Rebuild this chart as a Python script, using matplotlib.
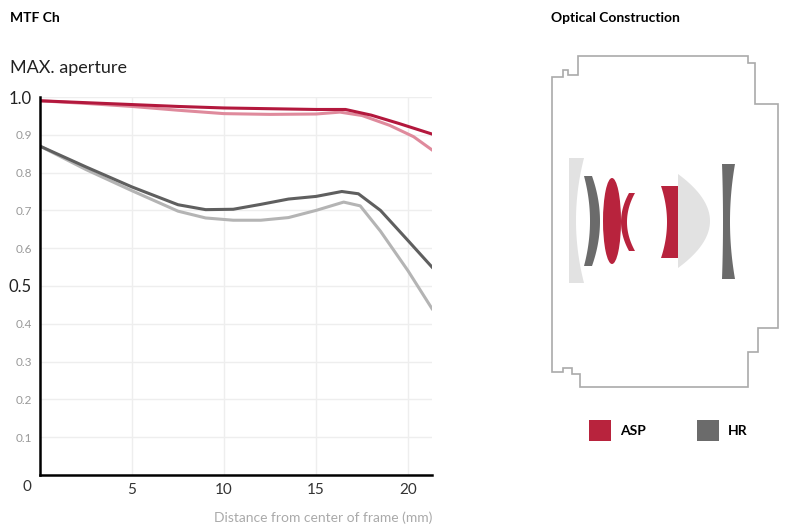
import numpy as np
import matplotlib
matplotlib.use("Agg")
import matplotlib.pyplot as plt
from matplotlib.patches import Polygon, Ellipse, Rectangle

plt.rcParams['font.family'] = ['Lato', 'DejaVu Sans']

# Data
sag_red_x = [0, 2.5, 5, 7.5, 10, 12.5, 15, 16.6, 18, 19.5, 21.3]
sag_red_y = [0.99, 0.985, 0.98, 0.975, 0.971, 0.969, 0.967, 0.967, 0.952, 0.93, 0.902]
mer_red_x = [0, 2.5, 5, 7.5, 10, 12.5, 15, 16.3, 17.5, 19, 20.3, 21.3]
mer_red_y = [0.99, 0.983, 0.975, 0.965, 0.956, 0.954, 0.955, 0.96, 0.951, 0.925, 0.895, 0.86]
sag_gray_x = [0, 2.5, 5, 7.5, 9, 10.5, 12, 13.5, 15, 16.4, 17.3, 18.5, 20, 21.3]
sag_gray_y = [0.87, 0.815, 0.762, 0.715, 0.702, 0.703, 0.716, 0.73, 0.737, 0.75, 0.744, 0.7, 0.62, 0.55]
mer_gray_x = [0, 2.5, 5, 7.5, 9, 10.5, 12, 13.5, 15, 16.5, 17.4, 18.5, 20, 21.3]
mer_gray_y = [0.87, 0.808, 0.752, 0.698, 0.68, 0.674, 0.674, 0.681, 0.7, 0.722, 0.712, 0.645, 0.54, 0.44]
x_ticks = [5, 10, 15, 20]
y_ticks = [0.1, 0.2, 0.3, 0.4, 0.5, 0.6, 0.7, 0.8, 0.9, 1.0]

fig = plt.figure(figsize=(8, 5.29), dpi=100)
ax = fig.add_axes([40/800, 1-475/529, 392/800, 378/529])
ax.plot(mer_red_x, mer_red_y, color='#df8a9c', lw=2.2)
ax.plot(sag_red_x, sag_red_y, color='#b3183d', lw=2.2)
ax.plot(mer_gray_x, mer_gray_y, color='#b4b4b4', lw=2.2)
ax.plot(sag_gray_x, sag_gray_y, color='#5f5f5f', lw=2.2)
ax.set_xlim(0, 21.3)
ax.set_ylim(0, 1.0)
ax.set_xticks(x_ticks)
ax.set_yticks(y_ticks)
ax.set_xticklabels([str(v) for v in x_ticks], fontsize=11, color='#333333')
labs = ax.set_yticklabels([f"{v:.1f}" for v in y_ticks])
for v, l in zip(y_ticks, labs):
    if v in (0.5, 1.0):
        l.set_fontsize(12); l.set_color('#222222')
    else:
        l.set_fontsize(8.5); l.set_color('#999999')
ax.tick_params(length=0, pad=6)
ax.grid(True, color='#eeeeee', lw=1)
for s in ['top', 'right']:
    ax.spines[s].set_visible(False)
ax.spines['left'].set_linewidth(1.8)
ax.spines['bottom'].set_linewidth(1.8)
ax.set_axisbelow(True)
ax.set_xlabel('Distance from center of frame (mm)', fontsize=10, color='#aaaaaa', loc='right', labelpad=10)

fig.text(27/800, 1-487/529, '0', fontsize=11, color='#333333', ha='center', va='center')
fig.text(10/800, 1-18/529, 'MTF Ch', fontsize=10, fontweight='bold', va='center')
fig.text(10/800, 1-68/529, 'MAX. aperture', fontsize=13, color='#222222', va='center')
fig.text(551/800, 1-18/529, 'Optical Construction', fontsize=10, fontweight='bold', va='center')

# Lens diagram in pixel coordinates
d = fig.add_axes([0, 0, 1, 1], zorder=-1)
d.set_xlim(0, 800); d.set_ylim(529, 0); d.axis('off')
outline = [(552,77),(563,77),(563,70),(568,70),(568,75),(578,75),(578,56),(748,56),(748,63),(755,63),
           (755,104),(778,104),(778,328),(758,328),(758,352),(748,352),(748,387),(580,387),(580,374),
           (572,374),(572,368),(563,368),(563,372),(552,372)]
d.add_patch(Polygon(outline, closed=True, fill=False, ec='#aaaaaa', lw=1.2))

def lens(xl, xr, y0, y1, bl, br, color):
    t = np.linspace(-1, 1, 60)
    yc = (y0 + y1)/2; h = (y1 - y0)/2
    left = [(xl + bl*(1 - tt**2), yc + h*tt) for tt in t]
    right = [(xr + br*(1 - tt**2), yc + h*tt) for tt in t[::-1]]
    d.add_patch(Polygon(left + right, closed=True, fc=color, ec='none', joinstyle='round'))

light = '#e2e2e2'; red = '#b8233d'; dg = '#6b6b6b'
lens(569, 584, 158, 283, 0, -8, light)
lens(584, 592, 176, 266, 6, 8, dg)
d.add_patch(Ellipse((612, 221), 18, 86, fc=red, ec='none'))
lens(629, 635, 193, 251, -8, -8, red)
lens(661, 678, 186, 258, 6, 0, red)
lens(678, 678, 174, 268, 0, 32, light)
lens(722, 735, 164, 279, 1, -5, dg)

d.add_patch(Rectangle((589, 420), 22, 21, fc=red, ec='none'))
d.text(620, 431, 'ASP', fontsize=10, fontweight='bold', va='center')
d.add_patch(Rectangle((697, 420), 22, 21, fc=dg, ec='none'))
d.text(728, 431, 'HR', fontsize=10, fontweight='bold', va='center')

fig.savefig('out.png', dpi=100)
